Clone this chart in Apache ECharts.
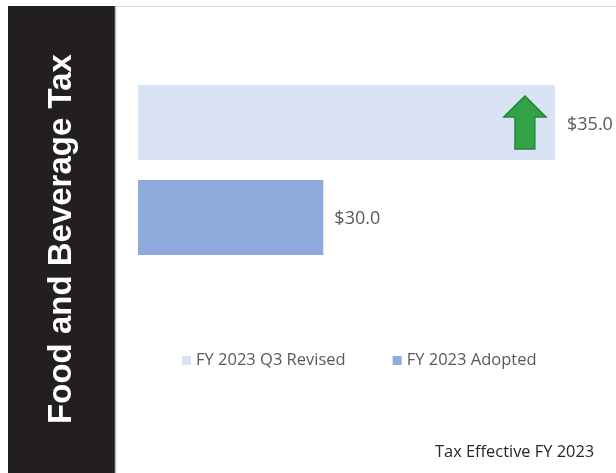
<!DOCTYPE html>
<html>
<head>
<meta charset="utf-8">
<script src="https://cdn.jsdelivr.net/npm/echarts@6/dist/echarts.min.js"></script>
<style>
  html, body { margin: 0; padding: 0; background: #fff; }
  #main { width: 616px; height: 473px; }
</style>
</head>
<body>
<div id="main"></div>
<script>
    // chart values
    var categories = ['FY 2023 Q3 Revised', 'FY 2023 Adopted'];
    var revisedValues = [35.0, '-'];
    var adoptedValues = ['-', 30.0];
    var arrowAt = [34.35, 'FY 2023 Q3 Revised'];

    var myChart = echarts.init(document.getElementById('main'));
    var labelFmt = function (p) { return '$' + Number(p.value).toFixed(1); };
    var arrowPath = 'path://M21,0 L42,21 L31,21 L31,53 L11,53 L11,21 L0,21 Z';

    var option = {
        backgroundColor: '#fff',
        animation: false,
        graphic: [
            { type: 'rect', shape: { x: 8, y: 6, width: 107, height: 467 }, style: { fill: '#231f20' } },
            { type: 'line', shape: { x1: 115.5, y1: 6, x2: 115.5, y2: 473 }, style: { stroke: '#bfbfbf', lineWidth: 1.5 } },
            { type: 'line', shape: { x1: 116, y1: 6.5, x2: 616, y2: 6.5 }, style: { stroke: '#d9d9d9', lineWidth: 1 } },
            {
                type: 'text', x: 61.5, y: 239, rotation: Math.PI / 2,
                style: { text: 'Food and Beverage Tax', fill: '#fff', font: 'bold 33px "Liberation Sans", Arial', align: 'center', verticalAlign: 'middle' }
            },
            {
                type: 'text', left: 435, top: 444,
                style: { text: 'Tax Effective FY 2023', fill: '#262626', font: '16.4px "Open Sans"' }
            }
        ],
        legend: {
            data: categories,
            left: 177,
            top: 347,
            itemWidth: 9,
            itemHeight: 9,
            itemGap: 47,
            icon: 'rect',
            textStyle: { color: '#595959', fontSize: 16.5, fontFamily: 'Open Sans' }
        },
        grid: { left: 138, right: 61, top: 75, height: 190, containLabel: false },
        xAxis: {
            type: 'value', min: 26, max: 35,
            show: false
        },
        yAxis: {
            type: 'category', data: categories, inverse: true,
            show: false
        },
        series: [
            {
                name: 'FY 2023 Q3 Revised',
                type: 'bar',
                data: revisedValues,
                barWidth: 75,
                barGap: '-100%',
                itemStyle: { color: '#dae3f3' },
                label: { show: true, position: 'right', distance: 12, formatter: labelFmt, color: '#595959', fontSize: 18, fontFamily: 'Open Sans', offset: [0, 2] },
                markPoint: {
                    silent: true,
                    label: { show: false },
                    data: [{
                        coord: arrowAt,
                        symbol: arrowPath,
                        symbolSize: [42, 53],
                        itemStyle: { color: '#33a246', borderColor: '#1d8a3a', borderWidth: 1.5 }
                    }]
                }
            },
            {
                name: 'FY 2023 Adopted',
                type: 'bar',
                data: adoptedValues,
                barWidth: 75,
                itemStyle: { color: '#8faadc' },
                label: { show: true, position: 'right', distance: 11, formatter: labelFmt, color: '#595959', fontSize: 18, fontFamily: 'Open Sans', offset: [0, 1] }
            }
        ]
    };

    myChart.setOption(option);
</script>
</body>
</html>
